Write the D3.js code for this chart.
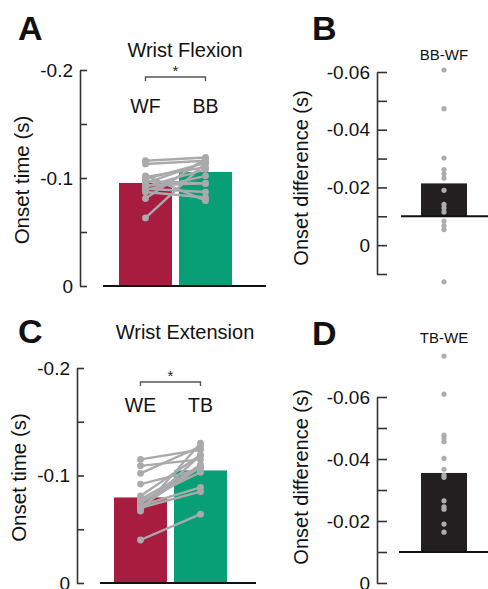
<!DOCTYPE html>
<html>
<head>
<meta charset="utf-8">
<script src="https://cdn.jsdelivr.net/npm/d3@7"></script>
<style>
  body { margin: 0; background: #fff; }
  svg { display: block; font-family: "Liberation Sans", Arial, Helvetica, sans-serif; }
</style>
</head>
<body>
<div id="fig"></div>
<script>
// onset times (negative = earlier)
const flexCats = ["WF", "BB"];
const flexMeans = [-0.0954, -0.1056];
const flexWF = [-0.063, -0.081, -0.095, -0.092, -0.099, -0.089, -0.101, -0.116, -0.113, -0.093, -0.097, -0.090, -0.087, -0.102];
const flexBB = [-0.114, -0.118, -0.115, -0.108, -0.114, -0.102, -0.110, -0.119, -0.116, -0.095, -0.095, -0.087, -0.082, -0.079];

const extCats = ["WE", "TB"];
const extMeans = [-0.0796, -0.1047];
const extWE = [-0.040, -0.115, -0.109, -0.102, -0.092, -0.081, -0.067, -0.068, -0.070, -0.071, -0.072, -0.074, -0.076, -0.078];
const extTB = [-0.064, -0.124, -0.115, -0.127, -0.106, -0.119, -0.130, -0.119, -0.085, -0.108, -0.089, -0.110, -0.103, -0.108];

// onset differences, in the units printed on the axes
const diffBase = -0.01;
const diffBBWF = [-0.0607, -0.0473, -0.0302, -0.0262, -0.0247, -0.0232, -0.0190, -0.0141, -0.0129, -0.0115, -0.0083, -0.0067, -0.0054, 0.0127];
const diffBBWFMean = -0.0214;
const diffTBWE = [-0.0732, -0.0609, -0.0477, -0.0468, -0.0456, -0.0402, -0.0367, -0.0348, -0.0341, -0.0265, -0.0246, -0.0238, -0.0190, -0.0164];
const diffTBWEMean = -0.0355;

// ticks
const onsetTicks = [0, -0.05, -0.1, -0.15, -0.2];
const onsetTickLabels = ["0", "", "-0.1", "", "-0.2"];
const diffTicksB = [0.01, 0, -0.01, -0.02, -0.03, -0.04, -0.05, -0.06];
const diffTickLabelsB = ["", "0", "", "-0.02", "", "-0.04", "", "-0.06"];
const diffTicksD = [0, -0.01, -0.02, -0.03, -0.04, -0.05, -0.06];
const diffTickLabelsD = ["0", "", "-0.02", "", "-0.04", "", "-0.06"];

const barColors = ["#a81c40", "#089e76"];
const dotGray = "#aaaaac";

const W = 488, H = 589;
const svg = d3.select("#fig").append("svg")
  .attr("width", W).attr("height", H)
  .attr("viewBox", [0, 0, W, H]);

function yAxis(g, y, ticks, labels, len) {
  const ax = d3.axisLeft(y)
    .tickValues(ticks)
    .tickFormat((d, i) => labels[i])
    .tickSizeInner(-len)
    .tickSizeOuter(0)
    .tickPadding(7);
  g.call(ax);
  g.selectAll("path.domain").attr("stroke", "#333").attr("stroke-width", 1.6);
  g.selectAll(".tick line").attr("stroke", "#333").attr("stroke-width", 1.6);
  g.selectAll(".tick text").attr("font-size", 19).attr("fill", "#111")
    .attr("font-family", "Liberation Sans, Arial, sans-serif");
}

function letter(txt, x, y) {
  svg.append("text").attr("x", x).attr("y", y)
    .attr("font-size", 34).attr("font-weight", "bold").attr("fill", "#111")
    .text(txt);
}

function pairPanel(cfg) {
  const y = d3.scaleLinear().domain([0, -0.2]).range([cfg.y0, cfg.y1]);
  const x = d3.scaleBand().domain(cfg.cats).range(cfg.xr).paddingInner(0.117).paddingOuter(0);
  const g = svg.append("g");

  yAxis(g.append("g").attr("transform", `translate(${cfg.ax},0)`), y, onsetTicks, onsetTickLabels, 7);

  // axis title
  g.append("text")
    .attr("transform", `translate(${cfg.ax - 51},${(cfg.y0 + cfg.y1) / 2 + 2}) rotate(-90)`)
    .attr("text-anchor", "middle").attr("font-size", 20.5).attr("fill", "#111")
    .text("Onset time (s)");

  // title
  g.append("text").attr("x", cfg.titleX).attr("y", cfg.titleY)
    .attr("text-anchor", "middle").attr("font-size", 20).attr("fill", "#111")
    .text(cfg.title);

  // bars
  g.selectAll(".bar").data(cfg.means).join("rect")
    .attr("class", "bar")
    .attr("x", (d, i) => x(cfg.cats[i]))
    .attr("width", x.bandwidth())
    .attr("y", d => y(d))
    .attr("height", d => y(0) - y(d))
    .attr("fill", (d, i) => barColors[i]);

  g.append("line")
    .attr("x1", cfg.baseX[0]).attr("x2", cfg.baseX[1])
    .attr("y1", y(0)).attr("y2", y(0))
    .attr("stroke", "#111").attr("stroke-width", 2);

  // category labels
  g.selectAll(".cat").data(cfg.cats).join("text")
    .attr("class", "cat")
    .attr("x", d => x(d) + x.bandwidth() / 2)
    .attr("y", cfg.catY)
    .attr("text-anchor", "middle").attr("font-size", 19.5).attr("fill", "#111")
    .text(d => d);

  // significance bracket
  const bx0 = x(cfg.cats[0]) + x.bandwidth() / 2, bx1 = x(cfg.cats[1]) + x.bandwidth() / 2;
  g.append("path")
    .attr("d", `M${bx0},${cfg.brY + 4}V${cfg.brY}H${bx1}V${cfg.brY + 4}`)
    .attr("fill", "none").attr("stroke", "#555").attr("stroke-width", 1.4);
  g.append("text").attr("x", (bx0 + bx1) / 2).attr("y", cfg.brY - 1)
    .attr("text-anchor", "middle").attr("font-size", 15).attr("fill", "#222")
    .text("*");

  // subjects
  const pairs = cfg.a.map((v, i) => [v, cfg.b[i]]);
  g.selectAll(".subj").data(pairs).join("line")
    .attr("class", "subj")
    .attr("x1", bx0).attr("x2", bx1)
    .attr("y1", d => y(d[0])).attr("y2", d => y(d[1]))
    .attr("stroke", dotGray).attr("stroke-width", 2.4);
  g.selectAll(".dotA").data(cfg.a).join("circle")
    .attr("class", "dotA").attr("cx", bx0).attr("cy", d => y(d)).attr("r", 3.4)
    .attr("fill", dotGray);
  g.selectAll(".dotB").data(cfg.b).join("circle")
    .attr("class", "dotB").attr("cx", bx1).attr("cy", d => y(d)).attr("r", 3.4)
    .attr("fill", dotGray);
}

function diffPanel(cfg) {
  const y = d3.scaleLinear().domain(cfg.domain).range([cfg.y0, cfg.y1]);
  const g = svg.append("g");

  yAxis(g.append("g").attr("transform", `translate(${cfg.ax},0)`), y, cfg.ticks, cfg.labels, 10);

  g.append("text")
    .attr("transform", `translate(${cfg.ax - 69},${cfg.labelY}) rotate(-90)`)
    .attr("text-anchor", "middle").attr("font-size", 20).attr("fill", "#111")
    .text("Onset difference (s)");

  g.append("text").attr("x", cfg.cx).attr("y", cfg.titleY)
    .attr("text-anchor", "middle").attr("font-size", 15).attr("fill", "#111")
    .text(cfg.title);

  g.append("rect")
    .attr("x", cfg.barX[0]).attr("width", cfg.barX[1] - cfg.barX[0])
    .attr("y", y(cfg.mean)).attr("height", y(diffBase) - y(cfg.mean))
    .attr("fill", "#231f20");

  g.append("line")
    .attr("x1", cfg.baseX[0]).attr("x2", cfg.baseX[1])
    .attr("y1", y(diffBase)).attr("y2", y(diffBase))
    .attr("stroke", "#111").attr("stroke-width", 2);

  g.selectAll(".dd").data(cfg.values).join("circle")
    .attr("class", "dd").attr("cx", cfg.cx).attr("cy", d => y(d)).attr("r", 2.6)
    .attr("fill", "#adadad");
}

letter("A", 18, 40);
letter("B", 312, 40);
letter("C", 18, 343);
letter("D", 312, 345);

pairPanel({
  cats: flexCats, means: flexMeans, a: flexWF, b: flexBB,
  y0: 286, y1: 70, ax: 80, xr: [119, 232], baseX: [103, 266],
  title: "Wrist Flexion", titleX: 185, titleY: 57,
  catY: 113, brY: 77
});

pairPanel({
  cats: extCats, means: extMeans, a: extWE, b: extTB,
  y0: 583, y1: 368, ax: 77, xr: [114, 227], baseX: [100, 256],
  title: "Wrist Extension", titleX: 185, titleY: 339,
  catY: 412, brY: 382
});

diffPanel({
  domain: [0.01, -0.06], y0: 274, y1: 72, ax: 377,
  ticks: diffTicksB, labels: diffTickLabelsB, labelY: 178,
  title: "BB-WF", titleY: 60, cx: 444,
  barX: [421, 467], baseX: [401, 488],
  mean: diffBBWFMean, values: diffBBWF
});

diffPanel({
  domain: [0, -0.06], y0: 583, y1: 397, ax: 377,
  ticks: diffTicksD, labels: diffTickLabelsD, labelY: 477,
  title: "TB-WE", titleY: 343, cx: 444,
  barX: [421, 467], baseX: [399, 488],
  mean: diffTBWEMean, values: diffTBWE
});
</script>
</body>
</html>
